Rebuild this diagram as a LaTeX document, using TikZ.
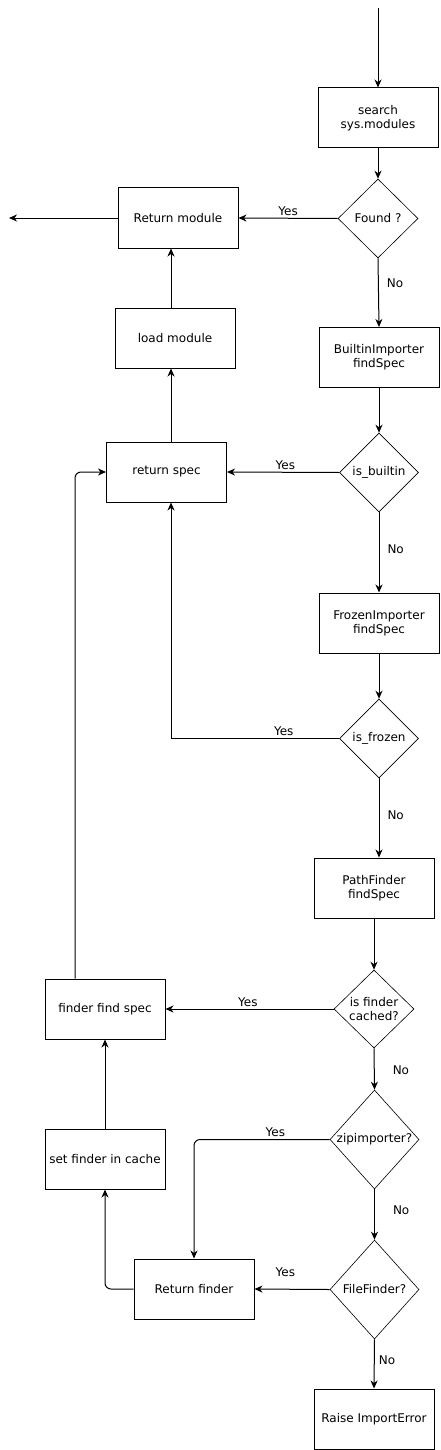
\documentclass[tikz,border=0pt]{standalone}
\usepackage{fontspec}
\setmainfont{DejaVu Sans}
\usetikzlibrary{shapes.geometric,arrows.meta}
\tikzset{
  box/.style    = {rectangle, draw, line width=1pt,
                   minimum width=120pt, minimum height=60pt,
                   inner sep=2pt, align=center,
                   font=\fontsize{12}{14}\selectfont},
  ask/.style    = {diamond, draw, line width=.6pt, aspect=1, inner sep=0pt,
                   minimum width=80pt, minimum height=79pt, align=center,
                   font=\fontsize{12}{14}\selectfont},
  askbig/.style = {ask, minimum width=89pt, minimum height=99pt},
  arr/.style    = {-{Stealth[length=8pt,width=7pt,inset=2.5pt]}, line width=1pt},
  lab/.style    = {font=\fontsize{12}{14}\selectfont, inner sep=2pt}
}
\begin{document}
\begin{tikzpicture}[x=1pt,y=-1pt]
  \useasboundingbox (0,0) rectangle (441,1450);
  % right column
  \node[box] (search) at (378,118) {search\\sys.modules};
  \node[ask] (found) at (378,218.5) {Found ?};
  \node[box] (builtin) at (379,357.5) {BuiltinImporter\\findSpec};
  \node[ask,minimum width=79pt] (isbuiltin) at (379,472.5) {is\_builtin};
  \node[box] (frozen) at (379,623) {FrozenImporter\\findSpec};
  \node[ask,minimum width=79pt] (isfrozen) at (379,738.5) {is\_frozen};
  \node[box] (pathfinder) at (374,888) {PathFinder\\findSpec};
  \node[ask,minimum height=78pt] (cached) at (374,1009) {is finder\\cached?};
  \node[askbig] (zip) at (374.5,1139.5) {zipimporter?};
  \node[askbig] (filefinder) at (374.5,1289.5) {FileFinder?};
  \node[box] (raise) at (374,1419) {Raise ImportError};
  % left column
  \node[box] (retmod) at (178,218) {Return module};
  \node[box] (loadmod) at (175,338) {load module};
  \node[box] (retspec) at (166.5,472) {return spec};
  \node[box] (findspec) at (105,1009) {finder find spec};
  \node[box] (setcache) at (105,1159) {set finder in cache};
  \node[box] (retfinder) at (194,1289) {Return finder};
  \coordinate (start) at (378,8);
  \coordinate (exit) at (9,218);
  \coordinate (spine) at (171,0);
  \coordinate (loop) at (75,0);

  \draw[arr] (start) -- (search.north);
  \draw[arr] (search.south) -- (found.north);
  \draw[arr] (found.west) -- node[lab,above] (yes1) {Yes} (retmod.east);
  \draw[arr] (retmod.west) -- (exit);
  \draw[arr] (found.south) -- node[lab,right=6pt,pos=.36] (no1) {No} (builtin.north);
  \draw[arr] (loadmod.north -| spine) -- (retmod.south -| spine);
  \draw[arr] (builtin.south) -- (isbuiltin.north);
  \draw[arr] (isbuiltin.west) -- node[lab,above,pos=.48] (yes2) {Yes} (retspec.east);
  \draw[arr] (retspec.north -| spine) -- (loadmod.south -| spine);
  \draw[arr] (isbuiltin.south) -- node[lab,right=6pt,pos=.46] (no2) {No} (frozen.north);
  \draw[arr] (frozen.south) -- (isfrozen.north);
  \draw[arr] (isfrozen.west) -- node[lab,above,pos=.33] (yes3) {Yes} (isfrozen.west -| spine) -- (retspec.south -| spine);
  \draw[arr] (isfrozen.south) -- node[lab,right=6pt,pos=.46] (no3) {No} (isfrozen.south |- pathfinder.north);
  \draw[arr] (pathfinder.south) -- (cached.north);
  \draw[arr] (cached.west) -- node[lab,above,pos=.51] (yes4) {Yes} (findspec.east);
  \draw[arr,rounded corners=6pt] (findspec.north -| loop) -- (retspec.west -| loop) -- (retspec.west);
  \draw[arr] (cached.south) -- node[lab,right=16pt,pos=.52] (no4) {No} (zip.north);
  \draw[arr,rounded corners=6pt] (zip.west) -- node[lab,above,pos=.4] (yes5) {Yes} (zip.west -| retfinder) -- (retfinder.north);
  \draw[arr] (zip.south) -- node[lab,right=16pt,pos=.41] (no5) {No} (filefinder.north);
  \draw[arr] (filefinder.west) -- node[lab,above=10pt,pos=.59] (yes6) {Yes} (retfinder.east);
  \draw[arr,rounded corners=6pt] (retfinder.west) -- (retfinder.west -| setcache) -- (setcache.south);
  \draw[arr] (setcache.north) -- (findspec.south);
  \draw[arr] (filefinder.south) -- node[lab,right=2pt,pos=.42] (no6) {No} (raise.north);
\end{tikzpicture}
\end{document}
